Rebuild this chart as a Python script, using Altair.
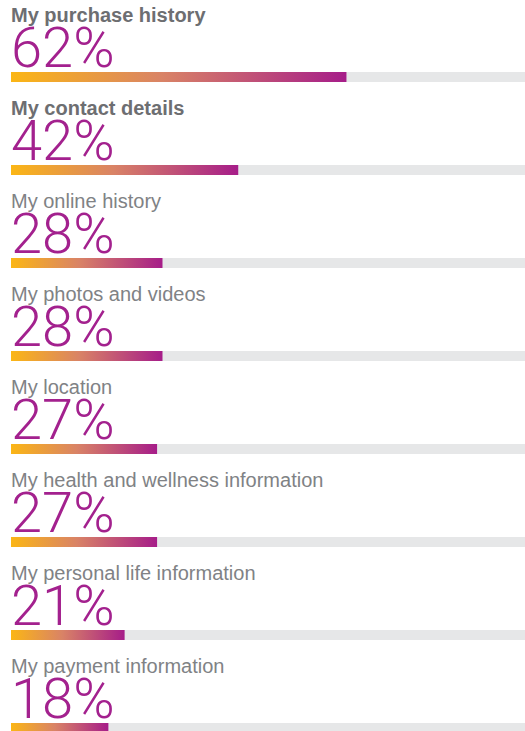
import altair as alt
import pandas as pd

labels = [
    "My purchase history",
    "My contact details",
    "My online history",
    "My photos and videos",
    "My location",
    "My health and wellness information",
    "My personal life information",
    "My payment information",
]
values = [62, 42, 28, 28, 27, 27, 21, 18]

df = pd.DataFrame({"label": labels, "value": values})

x_scale = alt.Scale(domain=[0, 95], clamp=True)
y_enc = alt.Y(
    "label:N",
    sort=labels,
    axis=None,
    scale=alt.Scale(range=[30.5, 774.5], paddingInner=0, paddingOuter=0),
)

base = alt.Chart(df).transform_window(rank="row_number()")

track = base.transform_calculate(full="100").mark_bar(
    height=10, color="#E6E7E8"
).encode(x=alt.X("full:Q", scale=x_scale, axis=None), y=y_enc)

grad = alt.Gradient(
    gradient="linear",
    stops=[
        alt.GradientStop(color="#FBB615", offset=0),
        alt.GradientStop(color="#D98366", offset=0.45),
        alt.GradientStop(color="#A61D89", offset=1),
    ],
    x1=0, x2=1, y1=0, y2=0,
)

bars = base.mark_bar(height=10, color=grad).encode(
    x=alt.X("value:Q", scale=x_scale, axis=None), y=y_enc
)

label_bold = base.transform_filter("datum.rank <= 2").mark_text(
    align="left", baseline="alphabetic", dy=-55, fontSize=20,
    font="Liberation Sans", fontWeight="bold", color="#6D6E71",
).encode(x=alt.datum(0, type="quantitative", scale=x_scale), y=y_enc, text="label:N")

label_reg = base.transform_filter("datum.rank > 2").mark_text(
    align="left", baseline="alphabetic", dy=-55, fontSize=20,
    font="Liberation Sans", color="#808285",
).encode(x=alt.datum(0, type="quantitative", scale=x_scale), y=y_enc, text="label:N")

pct = base.transform_calculate(pct="datum.value + '%'").mark_text(
    align="left", baseline="alphabetic", dy=-10, fontSize=56,
    font="Roboto", fontWeight=300, color="#A3218E",
).encode(x=alt.datum(0, type="quantitative", scale=x_scale), y=y_enc, text="pct:N")

chart = alt.layer(track, bars, label_bold, label_reg, pct).properties(
    width=514,
    height=731,
    padding={"left": 11, "right": 0, "top": 0, "bottom": 0},
    autosize=alt.AutoSizeParams(type="none"),
    background="white",
).configure_view(stroke=None)

chart.save("out.html", embed_options={"renderer": "svg", "actions": False})
